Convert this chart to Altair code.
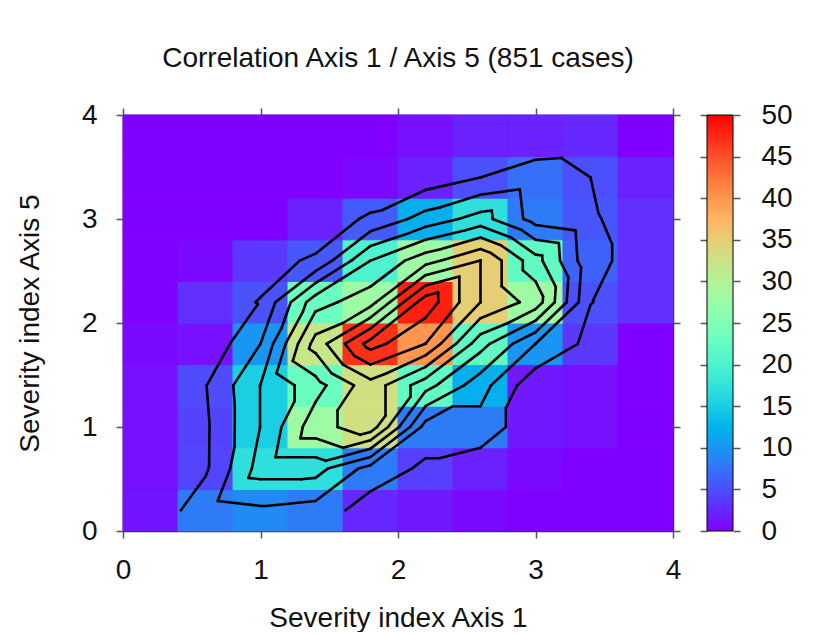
import math
import altair as alt
import pandas as pd

# ---------------- data ----------------
x_edges = [0.0, 0.4, 0.8, 1.2, 1.6, 2.0, 2.4, 2.8, 3.2, 3.6, 4.0]
y_edges = [0.0, 0.4, 0.8, 1.2, 1.6, 2.0, 2.4, 2.8, 3.2, 3.6, 4.0]
# counts per cell, rows from bottom (y 0-0.4) to top (y 3.6-4.0)
row0 = [1.3, 8, 9.2, 8, 2.5, 1.5, 0.5, 0, 0, 0]
row1 = [1, 4.3, 17, 17, 8, 4, 2, 0.5, 0, 0]
row2 = [1, 4.2, 15.1, 28, 33, 8, 8, 1.5, 1, 0]
row3 = [1, 4.8, 15.1, 23, 33, 22, 12, 1.5, 1, 0]
row4 = [0.5, 1, 10, 32, 47, 40, 22, 10, 3.5, 0]
row5 = [0, 3, 5.2, 23, 28, 48, 35, 28, 5.1, 3]
row6 = [0, 0.5, 3.5, 5.6, 20, 28, 35, 22, 6.3, 3]
row7 = [0, 0, 0, 2, 5.8, 12, 17, 8, 5.5, 3]
row8 = [0, 0, 0, 0, 0.5, 2, 5, 7.2, 5, 2]
row9 = [0, 0, 0, 0, 0, 1, 2, 2, 2.5, 0]
counts = [row0, row1, row2, row3, row4, row5, row6, row7, row8, row9]

contour_levels = [5, 10, 15, 20, 25, 30, 35, 40, 45]
axis_ticks = [0, 1, 2, 3, 4]
colorbar_ticks = [0, 5, 10, 15, 20, 25, 30, 35, 40, 45, 50]
color_max = 50
title_text = "Correlation Axis 1 / Axis 5 (851 cases)"
x_title = "Severity index Axis 1"
y_title = "Severity index Axis 5"

FONT = "Liberation Sans, Arial, Helvetica, sans-serif"
FS = 28


def rainbow(t):
    r = min(1.0, abs(2 * t - 0.5))
    g = math.sin(math.pi * t)
    b = math.cos(math.pi * t / 2)
    return "#%02x%02x%02x" % tuple(int(round(max(0, min(1, c)) * 255)) for c in (r, g, b))


stop_vals = [color_max * k / 20 for k in range(21)]
stop_cols = [rainbow(v / color_max) for v in stop_vals]

# ---------------- cells ----------------
cells = []
for j, row in enumerate(counts):
    for i, v in enumerate(row):
        cells.append({"x0": x_edges[i], "x1": x_edges[i + 1],
                      "y0": y_edges[j], "y1": y_edges[j + 1], "count": v})
cells_df = pd.DataFrame(cells)

# ---------------- contours (marching triangles on cell centres) ----------------
xc = [(x_edges[i] + x_edges[i + 1]) / 2 for i in range(len(x_edges) - 1)]
yc = [(y_edges[j] + y_edges[j + 1]) / 2 for j in range(len(y_edges) - 1)]


def tri_seg(pts, vals, lev):
    above = [v >= lev for v in vals]
    if all(above) or not any(above):
        return None
    out = []
    for a, b in ((0, 1), (1, 2), (2, 0)):
        if above[a] != above[b]:
            t = (lev - vals[a]) / (vals[b] - vals[a])
            out.append((pts[a][0] + t * (pts[b][0] - pts[a][0]),
                        pts[a][1] + t * (pts[b][1] - pts[a][1])))
    return out if len(out) == 2 else None


segs = []
for lev in contour_levels:
    for j in range(len(yc) - 1):
        for i in range(len(xc) - 1):
            p00 = (xc[i], yc[j]); p10 = (xc[i + 1], yc[j])
            p01 = (xc[i], yc[j + 1]); p11 = (xc[i + 1], yc[j + 1])
            v00 = counts[j][i]; v10 = counts[j][i + 1]
            v01 = counts[j + 1][i]; v11 = counts[j + 1][i + 1]
            for pts, vals in (((p00, p10, p11), (v00, v10, v11)),
                              ((p00, p11, p01), (v00, v11, v01))):
                s = tri_seg(pts, vals, lev)
                if s:
                    segs.append({"xa": s[0][0], "ya": s[0][1],
                                 "xb": s[1][0], "yb": s[1][1], "level": lev})
seg_df = pd.DataFrame(segs)

# ---------------- scales / axes ----------------
xs = alt.Scale(domain=[0, 4], nice=False, zero=False)
ys = alt.Scale(domain=[0, 4], nice=False, zero=False)
cs = alt.Scale(domain=stop_vals, range=stop_cols, interpolate="rgb")

AX = dict(values=axis_ticks, format="d", grid=False, tickSize=7, tickWidth=1.5,
          tickColor="#555555", domainColor="#333333", domainWidth=1.5,
          labelFlush=False, labelOverlap=False,
          labelFont=FONT, labelFontSize=FS, labelColor="#111111",
          titleFont=FONT, titleFontSize=FS, titleFontWeight="normal", titleColor="#111111")

ax_bottom = alt.Axis(orient="bottom", labelPadding=18, titlePadding=20, **AX)
ax_left = alt.Axis(orient="left", labelPadding=19, titlePadding=37, **AX)
ax_top = alt.Axis(orient="top", labels=False, title=None, **AX)
ax_right = alt.Axis(orient="right", labels=False, title=None, **AX)

heat = alt.Chart(cells_df).mark_rect(strokeWidth=1).encode(
    x=alt.X("x0:Q", scale=xs, axis=ax_bottom, title=x_title),
    x2="x1:Q",
    y=alt.Y("y0:Q", scale=ys, axis=ax_left, title=y_title),
    y2="y1:Q",
    color=alt.Color("count:Q", scale=cs, legend=None),
    stroke=alt.Stroke("count:Q", scale=cs, legend=None),
)

lines = alt.Chart(seg_df).mark_rule(color="black", strokeWidth=2.6, strokeCap="round").encode(
    x=alt.X("xa:Q", scale=xs, axis=ax_top),
    x2="xb:Q",
    y=alt.Y("ya:Q", scale=ys, axis=ax_right),
    y2="yb:Q",
)

main = alt.layer(heat, lines).resolve_axis(x="independent", y="independent").properties(
    width=550, height=416,
    title=alt.Title(title_text, font=FONT, fontSize=FS, fontWeight="normal",
                    color="#111111", anchor="middle", offset=28),
)

# ---------------- colour bar ----------------
cb_df = pd.DataFrame({"lo": [0], "hi": [color_max], "l": [0], "r": [1]})
grad = alt.Gradient(
    gradient="linear",
    stops=[alt.GradientStop(color=c, offset=v / color_max) for v, c in zip(stop_vals, stop_cols)],
    x1=0, x2=0, y1=1, y2=0,
)
cbs = alt.Scale(domain=[0, color_max], nice=False, zero=False)
cbx = alt.Scale(domain=[0, 1], nice=False, zero=False)
CAX = dict(values=colorbar_ticks, grid=False, tickSize=7, tickWidth=1.5, tickColor="#555555",
           domain=False, labelFlush=False, labelOverlap=False,
           labelFont=FONT, labelFontSize=FS, labelColor="#111111", title=None)
bar = alt.Chart(cb_df).mark_rect(color=grad, stroke="black", strokeWidth=1).encode(
    y=alt.Y("lo:Q", scale=cbs, axis=alt.Axis(orient="right", labelPadding=21, **CAX)),
    y2="hi:Q",
    x=alt.X("l:Q", scale=cbx, axis=None),
    x2="r:Q",
)
bar_left = alt.Chart(cb_df).mark_rect(opacity=0).encode(
    y=alt.Y("lo:Q", scale=cbs, axis=alt.Axis(orient="left", labels=False, **CAX)),
    y2="hi:Q",
    x=alt.X("l:Q", scale=cbx, axis=None),
    x2="r:Q",
)
colorbar = alt.layer(bar, bar_left).resolve_axis(y="independent").properties(width=26, height=416)

chart = alt.hconcat(main, colorbar, spacing=18).properties(
    padding={"left": 8, "top": 37, "right": 5, "bottom": 0},
    background="white",
).configure_view(stroke=None)

chart.save("out.html", embed_options={"renderer": "svg", "actions": False})
